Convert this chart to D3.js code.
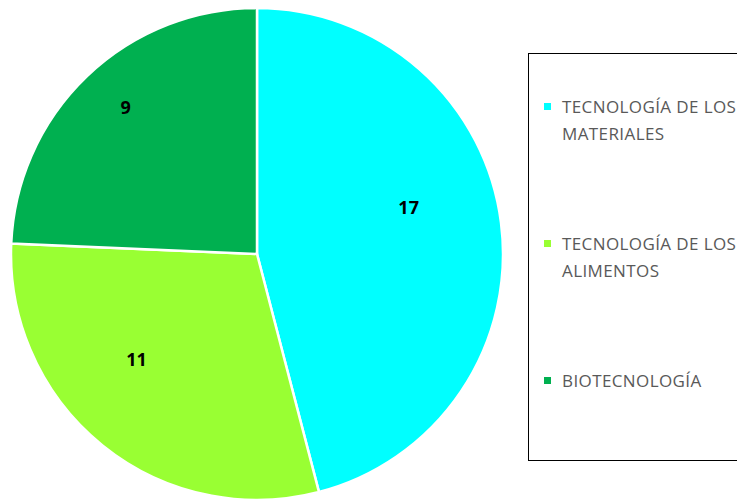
<!DOCTYPE html>
<html>
<head>
<meta charset="utf-8">
<script src="https://cdn.jsdelivr.net/npm/d3@7"></script>
<style>
  html, body { margin: 0; padding: 0; background: #fff; overflow: hidden; }
  svg { display: block; }
  .lbl { font-family: "Open Sans", sans-serif; font-weight: bold; font-size: 18px; fill: #000; }
  .leg { font-family: "Open Sans", sans-serif; font-size: 17px; letter-spacing: 0.4px; fill: #595959; }
</style>
</head>
<body>
<svg id="chart" width="737" height="499"></svg>
<script>
const categories = ["TECNOLOGÍA DE LOS MATERIALES", "TECNOLOGÍA DE LOS ALIMENTOS", "BIOTECNOLOGÍA"];
const legendLines = [["TECNOLOGÍA DE LOS", "MATERIALES"], ["TECNOLOGÍA DE LOS", "ALIMENTOS"], ["BIOTECNOLOGÍA"]];
const values = [17, 11, 9];
const colors = ["#00FFFF", "#99FF33", "#00B050"];

const W = 737, H = 499;
const cx = 257, cy = 254, R = 246;
const svg = d3.select("#chart");

const color = d3.scaleOrdinal().domain(categories).range(colors);
const pie = d3.pie().sort(null).value((d) => d.v);
const data = pie(categories.map((c, i) => ({ c, v: values[i] })));
const arc = d3.arc().innerRadius(0).outerRadius(R);
const lblArc = d3.arc().innerRadius(168).outerRadius(168);

const g = svg.append("g").attr("transform", `translate(${cx},${cy})`);
g.selectAll("path").data(data).join("path")
  .attr("d", arc)
  .attr("fill", (d) => color(d.data.c))
  .attr("stroke", "#fff")
  .attr("stroke-width", 2.5);

// etiquetas: Excel las deja algo arriba a la izquierda del centroide
const lg0 = svg.append("g").attr("transform", `translate(${cx - 15},${cy - 25})`);
lg0.selectAll("text").data(data).join("text")
  .attr("class", "lbl")
  .attr("text-anchor", "middle")
  .attr("dy", "0.35em")
  .attr("transform", (d) => `translate(${lblArc.centroid(d)})`)
  .text((d) => d.data.v);

/* leyenda */
const lg = svg.append("g");
lg.append("rect").attr("x", 528.5).attr("y", 53.5).attr("width", 230).attr("height", 407)
  .attr("fill", "#fff").attr("stroke", "#000").attr("stroke-width", 1);
const ly = d3.scalePoint().domain(categories).range([107, 381]);
categories.forEach((c, i) => {
  const y = ly(c);
  lg.append("rect").attr("x", 544).attr("y", y - 4).attr("width", 7).attr("height", 7).attr("fill", color(c));
  const t = lg.append("text").attr("class", "leg").attr("x", 562).attr("y", y + 6);
  legendLines[i].forEach((s, j) =>
    t.append("tspan").attr("x", 562).attr("dy", j ? 27 : 0).text(s));
});
</script>
</body>
</html>
